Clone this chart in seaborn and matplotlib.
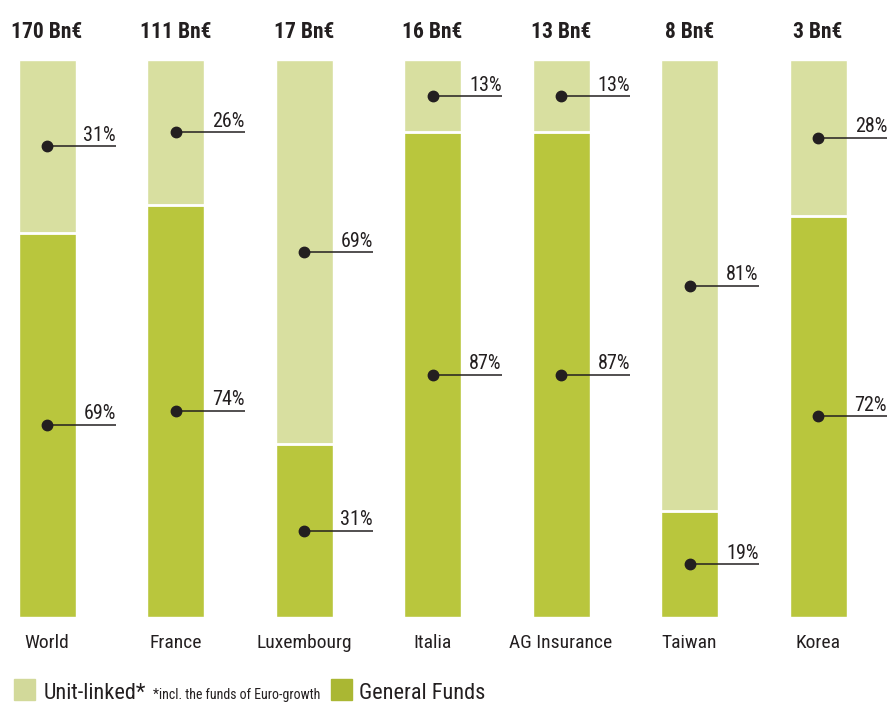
import matplotlib
matplotlib.use("Agg")
import matplotlib.pyplot as plt
from matplotlib import font_manager
from matplotlib.patches import Rectangle
import seaborn as sns
import pandas as pd

# Assets by region and fund type
regions = ["World", "France", "Luxembourg", "Italia", "AG Insurance", "Taiwan", "Korea"]
totals_bn = [170, 111, 17, 16, 13, 8, 3]
unit_linked = [31, 26, 69, 13, 13, 81, 28]
general_funds = [69, 74, 31, 87, 87, 19, 72]

LIGHT = "#d8dfa0"
DARK = "#b9c63d"
INK = "#231f20"

sns.set_theme(style="white")

# pick a narrow sans face if one is installed
entries = font_manager.fontManager.ttflist
names = {f.name for f in entries}
family, stretch, scale = "DejaVu Sans", "normal", 0.78
for cand in ["Roboto Condensed", "Liberation Sans Narrow", "Open Sans Condensed",
             "Noto Sans Condensed", "Noto Sans ExtraCondensed", "Arial Narrow"]:
    if cand in names:
        family, stretch, scale = cand, "normal", 1.0
        break
else:
    if any(f.name == "DejaVu Sans" and "Condensed" in f.fname for f in entries):
        family, stretch, scale = "DejaVu Sans", "condensed", 0.88
plt.rcParams["font.family"] = [family, "DejaVu Sans"]
plt.rcParams["font.stretch"] = stretch

df = pd.DataFrame({"region": regions, "unit": unit_linked, "general": general_funds,
                   "total": [u + g for u, g in zip(unit_linked, general_funds)]})

W, H = 889, 703
fig = plt.figure(figsize=(W / 100, H / 100), dpi=100)
ax = fig.add_axes([0, (H - 617) / H, 1, 557 / H])

step = 128.5
x0 = 47
bw = 57 / step

sns.barplot(data=df, x="region", y="total", color=LIGHT, saturation=1, width=bw, ax=ax)
sns.barplot(data=df, x="region", y="general", color=DARK, saturation=1, width=bw, ax=ax)

ax.set_xlim(-x0 / step, (W - x0) / step)
ax.set_ylim(0, 100)
ax.axis("off")

px = 1 / step  # one pixel in x data units
line_len = 69 * px
for i, (u, g) in enumerate(zip(unit_linked, general_funds)):
    # white seam between the two segments
    ax.hlines(g, i - bw / 2, i + bw / 2, color="white", lw=2, zorder=3)
    for val, mid in ((u, g + u / 2), (g, g / 2)):
        ax.plot([i, i + line_len], [mid, mid], color=INK, lw=1.1, zorder=4,
                solid_capstyle="butt")
        ax.plot(i, mid, "o", color=INK, ms=7.5, zorder=5)
        ax.annotate(f"{val}%", (i + line_len, mid), xytext=(0, 4),
                    textcoords="offset points", ha="right", va="baseline",
                    fontsize=14.5 * scale, color=INK)
    ax.annotate(f"{totals_bn[i]} Bn€", (i, 100), xytext=(0, 15.5),
                textcoords="offset points", ha="center", va="baseline",
                fontsize=15.5 * scale, fontweight="bold", color=INK)
    ax.annotate(regions[i], (i, 0), xytext=(0, -12), textcoords="offset points",
                ha="center", va="top", fontsize=14 * scale, color=INK)

# legend row
def fx(p):
    return p / W

def fy(p):
    return 1 - p / H

fig.patches.append(Rectangle((fx(14), fy(700)), fx(21), 21 / H, color="#d2d99a",
                             transform=fig.transFigure))
fig.text(fx(44), fy(699), "Unit-linked*", fontsize=16 * scale, color=INK, va="baseline")
fig.text(fx(153), fy(699), "*incl. the funds of Euro-growth", fontsize=10 * scale,
         color=INK, va="baseline")
fig.patches.append(Rectangle((fx(331), fy(700)), fx(21), 21 / H, color="#aab733",
                             transform=fig.transFigure))
fig.text(fx(359), fy(699), "General Funds", fontsize=16 * scale, color=INK, va="baseline")

fig.savefig("out.png", dpi=100)
